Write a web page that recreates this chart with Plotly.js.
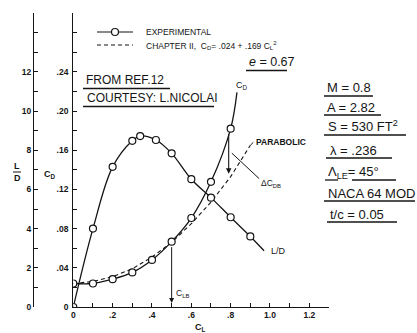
<!DOCTYPE html>
<html><head><meta charset="utf-8">
<script src="https://cdn.plot.ly/plotly-3.0.1.min.js"></script>
<style>html,body{margin:0;padding:0;background:#fff}#c{width:417px;height:333px}</style>
</head><body><div id="c"></div>
<script>
// ---- data ----
const clCD = [0, 0.1, 0.2, 0.3, 0.4, 0.5, 0.6, 0.7, 0.8];
const cdExp = [0.024, 0.024, 0.0284, 0.0353, 0.048, 0.0667, 0.0908, 0.1277, 0.182];
const cdTailCL = [0.832];
const cdTail = [0.219];

const clLD = [0, 0.1, 0.2, 0.3, 0.34, 0.42, 0.5, 0.6, 0.7, 0.8, 0.9];
const ldExp = [0, 4.0, 7.15, 8.48, 8.72, 8.52, 7.84, 6.52, 5.58, 4.58, 3.6];
const ldTailCL = [0.97];
const ldTail = [2.87];

const clPar = [0, 0.1, 0.2, 0.3, 0.4, 0.5, 0.6, 0.7, 0.8, 0.9];
const cdPar = [0.024, 0.026, 0.031, 0.039, 0.051, 0.066, 0.085, 0.107, 0.133, 0.165];

const xTickVals = [0, 0.2, 0.4, 0.6, 0.8, 1.0, 1.2];
const xTickText = ['0', '.2', '.4', '.6', '.8', '1.0', '1.2'];
const xMinorVals = [0.1, 0.3, 0.5, 0.7, 0.9, 1.1, 1.3];
const cdTickVals = [0, 0.04, 0.08, 0.12, 0.16, 0.20, 0.24];
const cdTickText = ['0', '.04', '.08', '.12', '.16', '.20', '.24'];
const cdMinorVals = [0.02, 0.06, 0.10, 0.14, 0.18, 0.22, 0.26, 0.28];
const ldTickVals = [0, 2, 4, 6, 8, 10, 12];
const ldTickText = ['0', '2', '4', '6', '8', '10', '12'];
const ldMinorVals = [1, 3, 5, 7, 9, 11, 13, 14];

// ---- layout geometry (pixels) ----
const L = 30, R = 88, T = 13, B = 26, Wd = 417, Ht = 333;
const W = Wd - L - R, H = Ht - T - B;
const px = v => (v - L) / W;
const py = v => 1 - (v - T) / H;
const INK = '#151515';
const FONT = 'Liberation Sans, Arial, sans-serif';

const cat = (a, b) => a.concat(b);

const traces = [
  {x: cat(clCD, cdTailCL), y: cat(cdExp, cdTail), mode: 'lines', line: {color: INK, width: 1.3, shape: 'spline'}, yaxis: 'y', hoverinfo: 'skip'},
  {x: clPar, y: cdPar, mode: 'lines', line: {color: INK, width: 1.1, dash: '4px,3px'}, yaxis: 'y', hoverinfo: 'skip'},
  {x: cat(clLD, ldTailCL), y: cat(ldExp, ldTail), mode: 'lines', line: {color: INK, width: 1.3, shape: 'spline'}, yaxis: 'y2', hoverinfo: 'skip'},
  {x: clCD, y: cdExp, mode: 'markers', marker: {symbol: 'circle', size: 7, color: '#fff', line: {color: INK, width: 1.2}}, yaxis: 'y'},
  {x: clLD, y: ldExp, mode: 'markers', marker: {symbol: 'circle', size: 7, color: '#fff', line: {color: INK, width: 1.2}}, yaxis: 'y2'}
];

const tf = {family: FONT, size: 8.5, color: INK, weight: 'bold'};
const minorStyle = {ticks: 'inside', ticklen: 4, tickwidth: 1, tickcolor: INK, showgrid: false};
const axBase = {showgrid: false, zeroline: false, showline: true, linecolor: INK, linewidth: 1.2,
  ticks: 'inside', ticklen: 4, tickwidth: 1, tickcolor: INK, tickfont: tf, fixedrange: true, tickmode: 'array'};

function ann(text, x, y, size, anchor, weight) {
  return {text: text, x: px(x), y: py(y), xref: 'paper', yref: 'paper', showarrow: false,
    xanchor: anchor || 'left', yanchor: 'middle', font: {family: FONT, size: size, color: INK, weight: weight || 'normal'}};
}
function dann(text, x, y, size, anchor, weight) {
  return {text: text, x: x, y: y, xref: 'x', yref: 'y', showarrow: false, xanchor: anchor || 'left', yanchor: 'middle',
    font: {family: FONT, size: size, color: INK, weight: weight || 'normal'}};
}
function uline(x0, x1, y) {
  return {type: 'line', xref: 'paper', yref: 'paper', x0: px(x0), x1: px(x1), y0: py(y), y1: py(y), line: {color: INK, width: 1.3}};
}

const annotations = [
  // legend text
  ann('EXPERIMENTAL', 144, 32, 8.5),
  ann('CHAPTER II,  C<sub>D</sub>= .024 + .169 C<sub>L</sub><sup>2</sup>', 144, 45, 8.5),
  // notes
  ann('FROM REF.12', 84, 80, 12),
  ann('COURTESY: L.NICOLAI', 85, 98, 12),
  ann('<i>e</i> = 0.67', 247, 62, 12.5),
  ann('M = 0.8', 325, 88, 13),
  ann('A = 2.82', 325, 107, 13),
  ann('S = 530 FT<sup>2</sup>', 326, 126, 13),
  ann('λ = .236', 328, 150, 13),
  ann('Λ<sub>LE</sub>= 45°', 326, 172, 13),
  ann('NACA 64 MOD', 326, 193, 13),
  ann('t/c = 0.05', 328, 214, 13),
  // axis titles
  ann('C<sub>D</sub>', 50, 174, 9, 'center', 'bold'),
  ann('L', 17, 166, 9, 'center', 'bold'),
  ann('D', 17, 178, 9, 'center', 'bold'),
  ann('C<sub>L</sub>', 201, 327, 9, 'center', 'bold'),
  // curve labels
  dann('C<sub>D</sub>', 0.858, 0.226, 9, 'center'),
  dann('PARABOLIC', 0.92, 0.168, 8.5, 'left', 'bold'),
  dann('ΔC<sub>DB</sub>', 0.945, 0.126, 8.5),
  dann('L/D', 0.995, 0.057, 9),
  dann('C<sub>LB</sub>', 0.512, 0.014, 8.5),
  // arrows
  {x: 0.79, y: 0.136, ax: 0.79, ay: 0.182, xref: 'x', yref: 'y', axref: 'x', ayref: 'y', text: '', showarrow: true,
    arrowhead: 2, arrowsize: 1, arrowwidth: 1.1, arrowcolor: INK, startstandoff: 4, standoff: 0},
  {x: 0.5, y: 0.004, ax: 0.5, ay: 0.0667, xref: 'x', yref: 'y', axref: 'x', ayref: 'y', text: '', showarrow: true,
    arrowhead: 2, arrowsize: 1, arrowwidth: 1.0, arrowcolor: INK, startstandoff: 4, standoff: 0}
];

const shapes = [
  // legend samples
  {type: 'line', xref: 'paper', yref: 'paper', x0: px(97), x1: px(133), y0: py(32), y1: py(32), line: {color: INK, width: 1.2}},
  {type: 'circle', xref: 'paper', yref: 'paper', x0: px(111.5), x1: px(118.5), y0: py(28.5), y1: py(35.5), fillcolor: '#fff', line: {color: INK, width: 1.2}},
  {type: 'line', xref: 'paper', yref: 'paper', x0: px(97), x1: px(133), y0: py(45), y1: py(45), line: {color: INK, width: 1.1, dash: '4px,3px'}},
  // L/D fraction bar
  {type: 'line', xref: 'paper', yref: 'paper', x0: px(13), x1: px(21), y0: py(172), y1: py(172), line: {color: INK, width: 1}},
  // leader for delta CD_B
  {type: 'line', xref: 'x', yref: 'y', x0: 0.806, x1: 0.945, y0: 0.157, y1: 0.131, line: {color: INK, width: 1}},
  // leader for PARABOLIC
  {type: 'line', xref: 'x', yref: 'y', x0: 0.9, x1: 0.915, y0: 0.165, y1: 0.168, line: {color: INK, width: 1}},
  // underlines of the hand lettering
  uline(83, 170, 88.5),
  uline(83, 214, 106.5),
  uline(246, 287, 70.5),
  uline(324, 373, 96),
  uline(324, 381, 115),
  uline(324, 406, 135),
  uline(326, 392, 158),
  uline(325, 338, 180), uline(352, 396, 180),
  uline(324, 415, 201),
  uline(327, 397, 222)
];

const layout = {
  width: Wd, height: Ht, margin: {l: L, r: R, t: T, b: B, pad: 0},
  paper_bgcolor: '#fff', plot_bgcolor: 'rgba(0,0,0,0)', showlegend: false,
  xaxis: Object.assign({}, axBase, {domain: [px(73.3), 1], range: [0, 1.3], tickvals: xTickVals, ticktext: xTickText, anchor: 'y',
    minor: Object.assign({tickmode: 'array', tickvals: xMinorVals}, minorStyle)}),
  yaxis: Object.assign({}, axBase, {range: [0, 0.3], tickvals: cdTickVals, ticktext: cdTickText, anchor: 'x', ticklabelstandoff: 2,
    minor: Object.assign({tickmode: 'array', tickvals: cdMinorVals}, minorStyle)}),
  yaxis2: Object.assign({}, axBase, {range: [0, 15], tickvals: ldTickVals, ticktext: ldTickText, overlaying: 'y', anchor: 'free', position: px(33), side: 'left', ticklabelstandoff: 0,
    minor: Object.assign({tickmode: 'array', tickvals: ldMinorVals}, minorStyle)}),
  annotations: annotations, shapes: shapes, font: {family: FONT, color: INK}
};

Plotly.newPlot('c', traces, layout, {staticPlot: true, displayModeBar: false});
</script></body></html>
